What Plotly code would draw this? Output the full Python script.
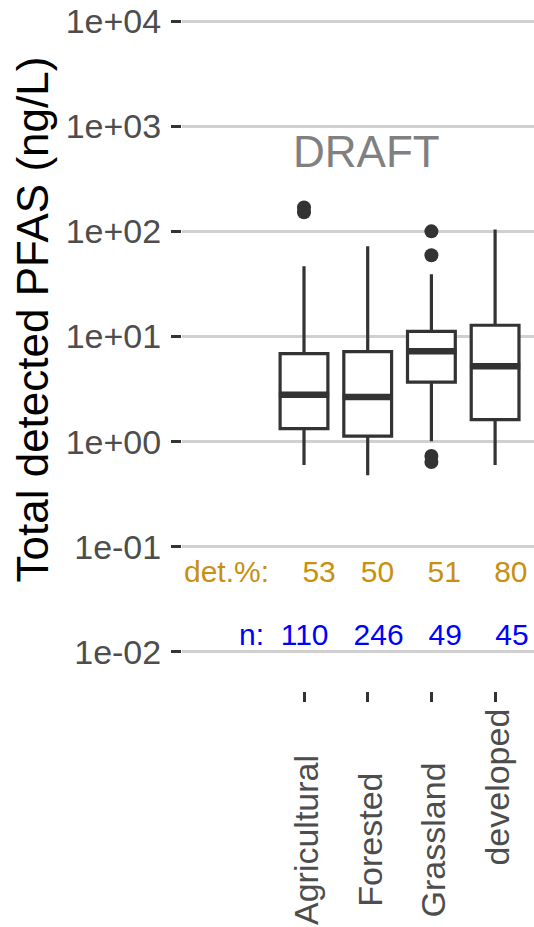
import plotly.graph_objects as go

# ---------------- data ----------------
categories = ["Agricultural", "Forested", "Grassland", "Urban/developed"]
# the reference only shows the right-hand part of the last category label
x_tick_labels = ["Agricultural", "Forested", "Grassland", "developed"]
q1 = [1.33, 1.13, 3.69, 1.62]
median = [2.80, 2.66, 7.24, 5.21]
q3 = [6.88, 7.19, 11.2, 12.8]
lower_whisker = [0.60, 0.48, 1.01, 0.60]
upper_whisker = [46.5, 72.1, 39.0, 104.0]

outlier_group = ["Agricultural", "Agricultural", "Grassland", "Grassland", "Grassland", "Grassland"]
outlier_value = [169.0, 152.0, 100.0, 59.2, 0.73, 0.64]

det_pct = [53, 50, 51, 80]
n_samples = [110, 246, 49, 45]

y_tick_values = [1e-2, 1e-1, 1e0, 1e1, 1e2, 1e3, 1e4]
y_tick_labels = ["1e-02", "1e-01", "1e+00", "1e+01", "1e+02", "1e+03", "1e+04"]

y_title = "Total detected PFAS (ng/L)"
watermark = "DRAFT"

# ---------------- style ----------------
W, H = 534, 927
ML, MR, MT, MB = 182, 0, 0, 236
FONT = "Liberation Sans, Arial, sans-serif"
DARK = "#333333"
TICK_TXT = "#4D4D4D"
GRID = "#D0D0D0"
GOLD = "#C8900F"
BLUE = "#0000FF"
BOX_W = 0.75
NB = "\u00a0"

xpos = list(range(len(categories)))
pos_of = {c: i for i, c in enumerate(categories)}

fig = go.Figure()

fig.add_trace(go.Box(
    x=xpos, q1=q1, median=median, q3=q3,
    lowerfence=lower_whisker, upperfence=upper_whisker,
    width=BOX_W, fillcolor="white",
    line=dict(color=DARK, width=3.2), whiskerwidth=0,
    boxpoints=False, showlegend=False, hoverinfo="skip",
))

# thicker median lines (ggplot style)
mx, my = [], []
for i, m in zip(xpos, median):
    mx += [i - BOX_W / 2 - 0.02, i + BOX_W / 2 + 0.02, None]
    my += [m, m, None]
fig.add_trace(go.Scatter(x=mx, y=my, mode="lines",
                         line=dict(color=DARK, width=6.5),
                         showlegend=False, hoverinfo="skip"))

fig.add_trace(go.Scatter(
    x=[pos_of[g] for g in outlier_group], y=outlier_value, mode="markers",
    marker=dict(color=DARK, size=14, line=dict(width=0)),
    showlegend=False, hoverinfo="skip"))

# white vertical gaps in the horizontal grid at category positions
for i in xpos:
    fig.add_shape(type="line", xref="x", yref="paper", x0=i, x1=i, y0=0, y1=1,
                  line=dict(color="white", width=3), layer="between")

plot_h = H - MT - MB
plot_w = W - ML - MR


def py(pix):
    return (MT + plot_h - pix) / plot_h


def px(pix):
    return (pix - ML) / plot_w


ann = []
ann.append(dict(text=y_title, xref="paper", yref="paper", x=px(32), y=py(319.5),
                textangle=-90, showarrow=False, xanchor="center", yanchor="middle",
                font=dict(size=44, color="black", family=FONT), borderpad=0, borderwidth=0))
ann.append(dict(text=watermark, xref="paper", yref="paper", x=px(366.5), y=py(151),
                showarrow=False, xanchor="center", yanchor="middle",
                font=dict(size=44, color="#808080", family=FONT), borderpad=0, borderwidth=0))

det_gaps = [4, 3, 4, 4]
n_gaps = [2, 3, 3, 4]
det_text = "det.%:" + "".join(NB * g + str(v) for g, v in zip(det_gaps, det_pct))
n_text = "n:" + "".join(NB * g + str(v) for g, v in zip(n_gaps, n_samples))
ann.append(dict(text=det_text, xref="paper", yref="paper", x=px(528), y=py(571.5),
                showarrow=False, xanchor="right", yanchor="middle",
                font=dict(size=30, color=GOLD, family=FONT), borderpad=0, borderwidth=0))
ann.append(dict(text=n_text, xref="paper", yref="paper", x=px(528.5), y=py(634),
                showarrow=False, xanchor="right", yanchor="middle",
                font=dict(size=30, color=BLUE, family=FONT), borderpad=0, borderwidth=0))

# rotated category labels (centered, ggplot-like); the last one is truncated
# in the reference, so its visible part hangs from the top like there
for i, lab, full in zip(xpos, x_tick_labels, categories):
    truncated = lab != full
    ann.append(dict(text=lab, xref="x", yref="paper", x=i, xshift=2,
                    y=py(709) if truncated else py(840),
                    textangle=-90, showarrow=False, xanchor="center",
                    yanchor="top" if truncated else "middle",
                    font=dict(size=34, color=TICK_TXT, family=FONT), borderpad=0, borderwidth=0))

px_per_cat = 63.7
x_first = 304.0
fig.update_layout(
    width=W, height=H,
    margin=dict(l=ML, r=MR, t=MT, b=MB, pad=0, autoexpand=False),
    paper_bgcolor="white", plot_bgcolor="white",
    font=dict(family=FONT),
    showlegend=False,
    annotations=ann,
    xaxis=dict(
        range=[(ML - x_first) / px_per_cat, (W - MR - x_first) / px_per_cat],
        tickvals=xpos, showticklabels=False, showgrid=False, zeroline=False,
        showline=False, ticks="outside", ticklen=10, tickwidth=3, tickcolor=DARK,
        automargin=False,
    ),
    yaxis=dict(
        type="log", range=[-2.371, 4.2],
        tickvals=y_tick_values, ticktext=y_tick_labels,
        showgrid=True, gridcolor=GRID, gridwidth=2.5, zeroline=False, showline=False,
        ticks="outside", ticklen=10, tickwidth=3, tickcolor=DARK,
        tickfont=dict(size=34, color=TICK_TXT, family=FONT),
        ticklabelstandoff=3, automargin=False,
    ),
)

fig.write_html(
    "out.html",
    config={"displayModeBar": False},
    post_script="document.body.style.margin='0px';document.body.style.overflow='hidden';",
)
